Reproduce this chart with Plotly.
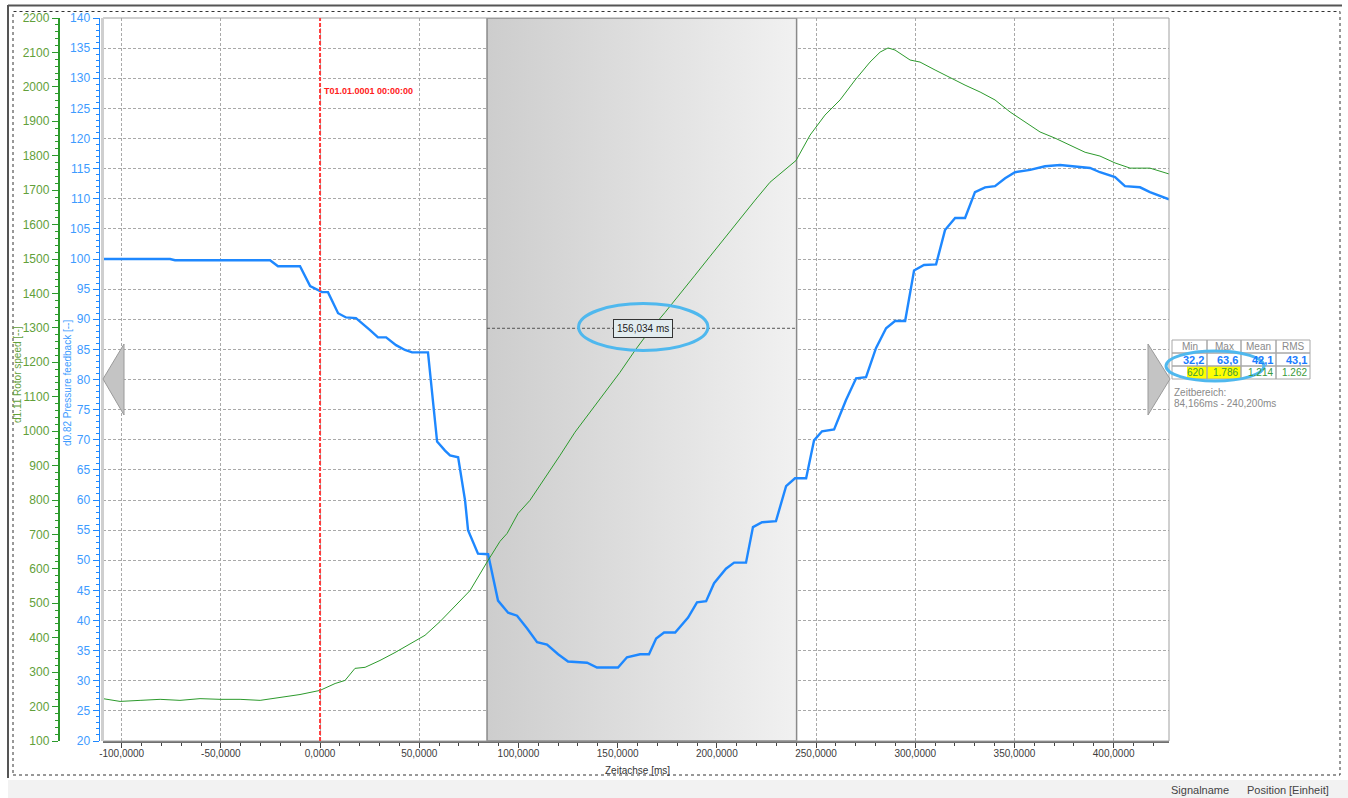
import plotly.graph_objects as go

# ---------------- data ----------------
time_pressure = [-109.4, -75.6, -73.1, -25.2, -21.2, -10.1, -5.0, -2.0, 1.0, 4.0,
                 9.1, 13.1, 18.1, 25.2, 29.2, 33.3, 38.3, 42.8, 46.4, 54.4,
                 59.0, 63.0, 65.5, 69.6, 73.1, 74.6, 79.6, 84.7, 89.7, 94.8,
                 99.3, 104.3, 109.4, 114.4, 120.0, 125.0, 134.6, 139.6, 150.2, 154.7,
                 161.3, 165.8, 169.4, 173.4, 179.0, 185.5, 190.0, 194.6, 198.6, 204.6,
                 208.7, 214.7, 218.2, 222.8, 229.8, 234.9, 239.4, 245.0, 249.0, 253.0,
                 259.1, 265.1, 270.2, 275.2, 280.2, 285.3, 289.8, 294.9, 299.4, 304.4,
                 310.5, 315.0, 320.1, 325.1, 330.1, 335.2, 340.2, 345.3, 350.3, 357.9,
                 365.4, 373.0, 380.5, 388.1, 393.1, 400.7, 405.7, 413.3, 418.3, 427.9]
pressure_feedback = [100.0, 100.0, 99.8, 99.8, 98.8, 98.8, 95.5, 95.0, 94.5, 94.5,
                     91.0, 90.3, 90.2, 88.2, 87.0, 87.0, 85.7, 84.9, 84.5, 84.5,
                     69.7, 68.2, 67.4, 67.1, 59.9, 55.0, 51.1, 51.0, 43.3, 41.3,
                     40.8, 38.7, 36.4, 36.0, 34.4, 33.2, 33.0, 32.2, 32.2, 33.9,
                     34.4, 34.4, 37.0, 38.0, 38.0, 40.5, 43.0, 43.2, 46.2, 48.6,
                     49.6, 49.6, 55.5, 56.3, 56.5, 62.3, 63.6, 63.6, 69.9, 71.4,
                     71.7, 76.6, 80.2, 80.4, 85.2, 88.5, 89.7, 89.7, 98.1, 99.0,
                     99.1, 104.8, 106.8, 106.8, 111.1, 111.9, 112.1, 113.4, 114.4, 114.8,
                     115.4, 115.6, 115.3, 115.1, 114.4, 113.6, 112.1, 111.9, 111.1, 109.9]

time_rotor = [-109.4, -100.8, -90.7, -80.6, -70.6, -60.5, -50.4, -40.3, -30.2, -20.2,
              -10.1, 0.0, 7.6, 12.6, 17.6, 22.7, 30.2, 37.8, 45.4, 52.9,
              60.5, 68.0, 75.6, 84.2, 90.7, 94.3, 99.8, 105.8, 113.4, 121.0,
              128.5, 136.1, 143.6, 151.2, 158.8, 166.3, 173.9, 181.5, 189.0, 196.6,
              204.2, 211.7, 219.3, 226.8, 234.4, 239.9, 247.0, 254.5, 262.1, 269.7,
              277.2, 282.3, 286.3, 289.8, 297.4, 302.4, 310.0, 317.5, 325.1, 332.7,
              340.2, 347.8, 355.3, 362.9, 370.5, 378.0, 385.6, 393.1, 400.7, 408.3,
              418.3, 427.9]
rotor_speed = [223, 215, 218, 221, 218, 223, 221, 221, 218, 226,
               235, 247, 267, 276, 311, 314, 334, 357, 383, 407,
               447, 491, 537, 620, 680, 703, 761, 799, 863, 930,
               997, 1055, 1113, 1171, 1235, 1293, 1345, 1401, 1453, 1508,
               1563, 1619, 1671, 1723, 1758, 1786, 1860, 1918, 1962, 2020,
               2072, 2101, 2113, 2107, 2078, 2072, 2049, 2026, 2005, 1985,
               1962, 1927, 1898, 1869, 1851, 1831, 1810, 1799, 1779, 1764,
               1764, 1747]

x_tick_vals = [-100, -50, 0, 50, 100, 150, 200, 250, 300, 350, 400]
x_tick_text = ["-100,0000", "-50,0000", "0,0000", "50,0000", "100,0000", "150,0000",
               "200,0000", "250,0000", "300,0000", "350,0000", "400,0000"]

window_start = 84.166
window_end = 240.2
cursor_level = 88.5
delta_label = "156,034 ms"
trigger_label = "T01.01.0001 00:00:00"

stats_header = ["Min", "Max", "Mean", "RMS"]
stats_pressure = ["32,2", "63,6", "42,1", "43,1"]
stats_rotor = ["620", "1.786", "1.214", "1.262"]
time_range_label = ["Zeitbereich:", "84,166ms - 240,200ms"]

# ---------------- helpers (pixel -> paper for decorations) ----------------
W, H = 1348, 798
def px(x):
    return x / W
def py(y):
    return 1 - y / H

BLUE = "#1e88ff"
BLUE_TXT = "#3d9bff"
GREEN = "#2c9a2c"
GREEN_TXT = "#62a03a"
FONT = "Liberation Sans"

fig = go.Figure()

# measurement window (gradient region)
fig.add_trace(go.Scatter(
    x=[window_start, window_end, window_end, window_start, window_start],
    y=[20, 20, 140, 140, 20],
    mode="lines", fill="toself",
    fillgradient=dict(type="horizontal", colorscale=[[0, "#cdcdcd"], [1, "#f1f1f1"]]),
    line=dict(color="#8a8a8a", width=1.5),
    hoverinfo="skip", xaxis="x", yaxis="y"))

fig.add_trace(go.Scatter(x=time_pressure, y=pressure_feedback, mode="lines",
                         line=dict(color=BLUE, width=2.4), hoverinfo="skip",
                         xaxis="x", yaxis="y"))
fig.add_trace(go.Scatter(x=time_rotor, y=rotor_speed, mode="lines",
                         line=dict(color=GREEN, width=1), hoverinfo="skip",
                         xaxis="x", yaxis="y2"))

shapes = []
# outer frame
shapes.append(dict(type="rect", xref="paper", yref="paper", x0=px(8), x1=px(1348), y0=py(780), y1=py(798),
                   fillcolor="#f2f2f2", line=dict(width=0), layer="below"))
shapes.append(dict(type="line", xref="paper", yref="paper", x0=px(8), x1=px(1342), y0=py(5.5), y1=py(5.5),
                   line=dict(color="#555555", width=2)))
shapes.append(dict(type="line", xref="paper", yref="paper", x0=px(8), x1=px(8), y0=py(5), y1=py(778),
                   line=dict(color="#555555", width=2)))
shapes.append(dict(type="rect", xref="paper", yref="paper", x0=px(13), x1=px(1340), y0=py(775), y1=py(11.5),
                   line=dict(color="#333333", width=1, dash="dot")))
# plot frame
shapes.append(dict(type="rect", xref="paper", yref="paper", x0=px(103), x1=px(1169), y0=py(741), y1=py(18),
                   line=dict(color="#a0a0a0", width=1)))
shapes.append(dict(type="line", xref="paper", yref="paper", x0=px(102.5), x1=px(102.5), y0=py(741), y1=py(18),
                   line=dict(color="#cfcfcf", width=3)))
# trigger line
shapes.append(dict(type="line", xref="x", yref="paper", x0=0, x1=0, y0=py(741), y1=py(18),
                   line=dict(color="#ff3b3b", width=2, dash="4px,2px")))
# cursor measurement line
shapes.append(dict(type="line", xref="x", yref="y", x0=window_start, x1=window_end,
                   y0=cursor_level, y1=cursor_level, line=dict(color="#555555", width=1, dash="3px,2px")))
# ellipse around delta
shapes.append(dict(type="circle", xref="x", yref="y", x0=130.3, x1=195.5, y0=84.8, y1=92.6,
                   line=dict(color="#4fb8ee", width=3)))
# scroll arrows
shapes.append(dict(type="path", xref="paper", yref="paper",
                   path=f"M {px(103)} {py(379)} L {px(124)} {py(344)} L {px(124)} {py(415)} Z",
                   fillcolor="#c4c4c4", line=dict(color="#9a9a9a", width=1)))
shapes.append(dict(type="path", xref="paper", yref="paper",
                   path=f"M {px(1170)} {py(379)} L {px(1148)} {py(344)} L {px(1148)} {py(415)} Z",
                   fillcolor="#c4c4c4", line=dict(color="#9a9a9a", width=1)))

# stats table
col_edges = [1172, 1207, 1241, 1276, 1310]
row_edges = [340, 353, 366, 379]
shapes.append(dict(type="rect", xref="paper", yref="paper", x0=px(1187), x1=px(1207), y0=py(379), y1=py(366),
                   fillcolor="#ffff00", line=dict(width=0)))
shapes.append(dict(type="rect", xref="paper", yref="paper", x0=px(1207), x1=px(1241), y0=py(379), y1=py(366),
                   fillcolor="#ffff00", line=dict(width=0)))
for r in range(3):
    for c in range(4):
        shapes.append(dict(type="rect", xref="paper", yref="paper",
                           x0=px(col_edges[c]), x1=px(col_edges[c + 1]),
                           y0=py(row_edges[r + 1]), y1=py(row_edges[r]),
                           line=dict(color="#a8a8a8", width=1)))
shapes.append(dict(type="circle", xref="paper", yref="paper", x0=px(1166), x1=px(1264), y0=py(381), y1=py(351),
                   line=dict(color="#4fb8ee", width=3)))


def note(text, x, y, size=10, color="#333333", xanchor="center", **kw):
    d = dict(text=text, x=px(x), y=py(y), xref="paper", yref="paper", xanchor=xanchor, yanchor="middle",
             showarrow=False, font=dict(family=FONT, size=size, color=color))
    d.update(kw)
    return d


annotations = []
annotations.append(dict(text=trigger_label, x=0, y=127.9, xref="x", yref="y", xanchor="left", yanchor="middle",
                        xshift=2, showarrow=False,
                        font=dict(family=FONT, size=9, color="#ff2020", weight="bold")))
annotations.append(dict(text=delta_label, x=162.6, y=cursor_level, xref="x", yref="y", showarrow=False,
                        xanchor="center", yanchor="middle",
                        bgcolor="#e2ecef", bordercolor="#333333", borderwidth=1, borderpad=3,
                        font=dict(family=FONT, size=10, color="#222222")))
annotations.append(note("d1.11 Rotor speed [--]", 17, 375, color=GREEN_TXT, textangle=-90))
annotations.append(note("d0.82 Pressure feedback [--]", 67, 383, color=BLUE_TXT, textangle=-90))
annotations.append(note("Zeitachse [ms]", 637, 770))
for c in range(4):
    annotations.append(note(stats_header[c], (col_edges[c] + col_edges[c + 1]) / 2, 346.5, color="#8a8a8a"))
    annotations.append(dict(text=stats_pressure[c], x=px(col_edges[c + 1] - 1), y=py(359.5),
                            xanchor="right", yanchor="middle", xref="paper", yref="paper", showarrow=False,
                            font=dict(family=FONT, size=11, color="#1a7cff", weight="bold")))
    annotations.append(note(stats_rotor[c], col_edges[c + 1] - 1, 372.5, color="#3a9a3a", xanchor="right"))
annotations.append(note(time_range_label[0], 1172, 392, color="#8a8a8a", xanchor="left"))
annotations.append(note(time_range_label[1], 1172, 403, color="#8a8a8a", xanchor="left"))
for txt, cx in [("Signalname", 1200), ("Position", 1266), ("[Einheit]", 1309)]:
    annotations.append(note(txt, cx, 790, size=11, color="#444444"))

fig.update_layout(
    width=W, height=H, autosize=False,
    margin=dict(l=0, r=0, t=0, b=0),
    paper_bgcolor="white", plot_bgcolor="white",
    showlegend=False, separators=",.",
    xaxis=dict(domain=[px(103), px(1169)], range=[-109.4, 427.9], anchor="y",
               tickvals=x_tick_vals, ticktext=x_tick_text,
               ticks="outside", ticklen=5, tickcolor="#444444", ticklabelstandoff=-3,
               showline=True, linecolor="#707070", linewidth=2,
               showgrid=True, gridcolor="#a9a9a9", griddash="3px,2px", gridwidth=1,
               zeroline=False, automargin=False,
               tickfont=dict(family=FONT, size=10, color="#3c3c3c"),
               minor=dict(ticks="outside", ticklen=3, tickcolor="#444444", dtick=10, tick0=0, showgrid=False)),
    yaxis=dict(domain=[py(741), py(18)], range=[20, 140], anchor="free", position=px(98.5), side="left",
               tick0=20, dtick=5, ticks="outside", ticklen=6, tickcolor=BLUE,
               showline=True, linecolor=BLUE, linewidth=1,
               showgrid=True, gridcolor="#a9a9a9", griddash="3px,2px", gridwidth=1,
               zeroline=False, automargin=False,
               tickfont=dict(family=FONT, size=12, color=BLUE_TXT),
               minor=dict(ticks="outside", ticklen=3, tickcolor=BLUE, dtick=1, tick0=20, showgrid=False)),
    yaxis2=dict(domain=[py(741), py(18)], range=[100, 2200], anchor="free", position=px(58.5), side="left",
                overlaying="y", tick0=100, dtick=100, ticks="outside", ticklen=6, tickcolor=GREEN,
                showline=True, linecolor=GREEN, linewidth=1.5, showgrid=False,
                zeroline=False, automargin=False,
                tickfont=dict(family=FONT, size=12, color=GREEN_TXT),
                minor=dict(ticks="outside", ticklen=3, tickcolor=GREEN, dtick=20, tick0=100, showgrid=False)),
    shapes=shapes, annotations=annotations,
)

fig.write_html("out.html", config={"displayModeBar": False},
               post_script="document.body.style.margin='0';")
